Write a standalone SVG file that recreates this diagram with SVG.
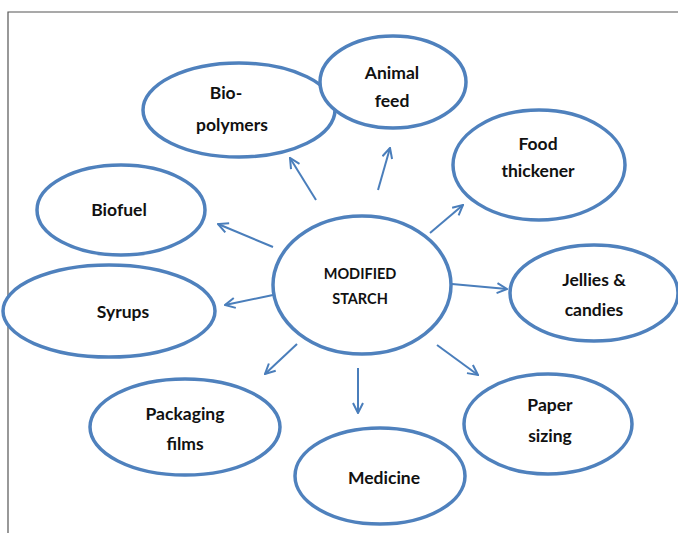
<svg xmlns="http://www.w3.org/2000/svg" width="678" height="533" viewBox="0 0 678 533">
<style>
.n{fill:#fff;stroke:#4f81bd;stroke-width:3.5}
.t{font-family:Lato,"Open Sans","Liberation Sans",sans-serif;font-weight:bold;font-size:17.5px;fill:#111;text-anchor:middle;dominant-baseline:central}
.s{font-size:14.5px}
.c line{stroke:#4a7ebb;stroke-width:2;marker-end:url(#a)}
</style>
<defs>
<marker id="a" viewBox="0 0 12 12" refX="11" refY="6" markerWidth="12" markerHeight="12" markerUnits="userSpaceOnUse" orient="auto">
<path d="M1,1 L11,6 L1,11" fill="none" stroke="#4a7ebb" stroke-width="2"/>
</marker>
</defs>
<rect width="678" height="533" fill="#fff"/>
<path d="M8,533 V12 H678" fill="none" stroke="#555" stroke-width="1.2"/>
<g class="c">
<line x1="316" y1="200" x2="290" y2="158"/>
<line x1="378" y1="190" x2="390" y2="148"/>
<line x1="430" y1="233" x2="463" y2="205"/>
<line x1="273" y1="247" x2="218" y2="224"/>
<line x1="452" y1="284" x2="507" y2="289"/>
<line x1="273" y1="295" x2="225" y2="305"/>
<line x1="297" y1="344" x2="265" y2="374"/>
<line x1="358" y1="368" x2="358" y2="413"/>
<line x1="437" y1="345" x2="478" y2="375"/>
</g>
<g id="center"><ellipse class="n" cx="362" cy="285" rx="89" ry="69"/><text class="t s" x="360" y="273">MODIFIED</text><text class="t s" x="360" y="298">STARCH</text></g>
<g id="biopolymers"><ellipse class="n" cx="239" cy="110" rx="96" ry="47"/><text class="t" x="226" y="92">Bio-</text><text class="t" x="232" y="124">polymers</text></g>
<g id="animalfeed"><ellipse class="n" cx="393" cy="82" rx="73" ry="46"/><text class="t" x="392" y="72">Animal</text><text class="t" x="392" y="100">feed</text></g>
<g id="foodthickener"><ellipse class="n" cx="539" cy="165" rx="86" ry="55"/><text class="t" x="538" y="143">Food</text><text class="t" x="538" y="170">thickener</text></g>
<g id="biofuel"><ellipse class="n" cx="121" cy="210" rx="84" ry="45"/><text class="t" x="119" y="209">Biofuel</text></g>
<g id="jellies"><ellipse class="n" cx="594" cy="293" rx="84" ry="48"/><text class="t" x="594" y="279">Jellies &amp;</text><text class="t" x="594" y="309">candies</text></g>
<g id="syrups"><ellipse class="n" cx="109" cy="311" rx="106" ry="46"/><text class="t" x="123" y="311">Syrups</text></g>
<g id="packaging"><ellipse class="n" cx="185" cy="427" rx="95" ry="48"/><text class="t" x="185" y="413">Packaging</text><text class="t" x="185" y="443">films</text></g>
<g id="medicine"><ellipse class="n" cx="380" cy="476" rx="85" ry="48"/><text class="t" x="384" y="477">Medicine</text></g>
<g id="paper"><ellipse class="n" cx="548" cy="424" rx="84" ry="50"/><text class="t" x="550" y="404">Paper</text><text class="t" x="550" y="435">sizing</text></g>
</svg>
